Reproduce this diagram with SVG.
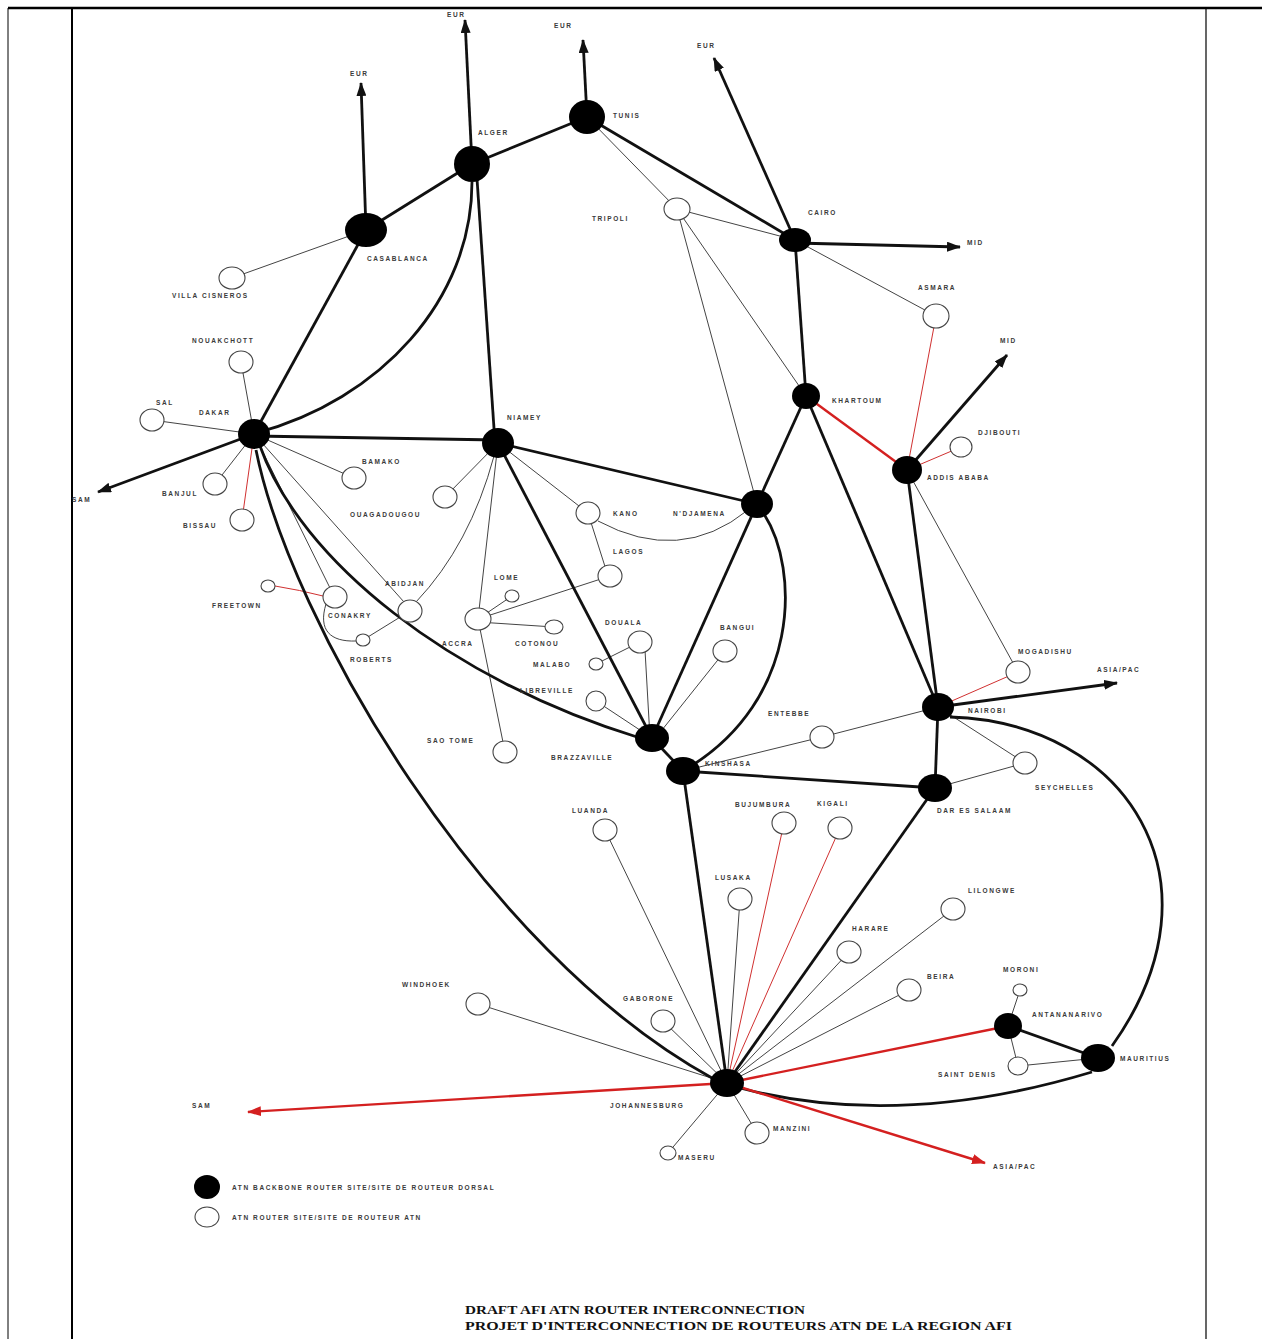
<svg xmlns="http://www.w3.org/2000/svg" width="1262" height="1339" viewBox="0 0 1262 1339">
<style>
.thin{stroke:#444;stroke-width:1;fill:none}
.red{stroke:#d03030;stroke-width:1;fill:none}
.thk{stroke:#111;stroke-width:2.8;fill:none}
.rthk{stroke:#d42020;stroke-width:2.4;fill:none}
.bb{fill:#000}
.op{fill:#fff;stroke:#444;stroke-width:1.1}
text{font-family:"Liberation Sans",Arial,sans-serif;font-size:6.5px;font-weight:bold;letter-spacing:1.6px;fill:#3a3a3a}
.title{font-family:"Liberation Serif","Times New Roman",serif;font-weight:bold;font-size:12px;letter-spacing:0;fill:#111}
</style>
<defs>
<marker id="ab" markerWidth="14" markerHeight="10" refX="13" refY="5" orient="auto" markerUnits="userSpaceOnUse"><path d="M0,0 L14,5 L0,10 Z" fill="#111"/></marker>
<marker id="ar" markerWidth="14" markerHeight="10" refX="13" refY="5" orient="auto" markerUnits="userSpaceOnUse"><path d="M0,0 L14,5 L0,10 Z" fill="#d42020"/></marker>
</defs>
<rect width="1262" height="1339" fill="#fff"/>
<g id="frame" stroke="#000" fill="none">
<line x1="8" y1="8" x2="1262" y2="8" stroke-width="2.5"/>
<line x1="8" y1="8" x2="8" y2="1339" stroke-width="1"/>
<line x1="72" y1="8" x2="72" y2="1339" stroke-width="2"/>
<line x1="1206" y1="8" x2="1206" y2="1339" stroke-width="1.2"/>
</g>
<g id="connectors">
<line class="thin" x1="366" y1="230" x2="232" y2="278"/>
<line class="thin" x1="587" y1="117" x2="677" y2="209"/>
<line class="thin" x1="677" y1="209" x2="795" y2="240"/>
<line class="thin" x1="677" y1="209" x2="757" y2="504"/>
<line class="thin" x1="677" y1="209" x2="806" y2="396"/>
<line class="thin" x1="795" y1="240" x2="936" y2="316"/>
<line class="thin" x1="907" y1="470" x2="1018" y2="672"/>
<line class="thin" x1="254" y1="434" x2="241" y2="362"/>
<line class="thin" x1="254" y1="434" x2="152" y2="420"/>
<line class="thin" x1="254" y1="434" x2="215" y2="484"/>
<line class="thin" x1="254" y1="434" x2="354" y2="478"/>
<line class="thin" x1="254" y1="434" x2="330" y2="588"/>
<line class="thin" x1="254" y1="434" x2="404" y2="602"/>
<path class="thin" d="M326,604 C318,630 330,642 356,641"/>
<line class="thin" x1="363" y1="640" x2="410" y2="611"/>
<line class="thin" x1="498" y1="443" x2="445" y2="497"/>
<path class="thin" d="M494,456 Q470,545 416,602"/>
<line class="thin" x1="498" y1="443" x2="478" y2="619"/>
<line class="thin" x1="498" y1="443" x2="588" y2="513"/>
<line class="thin" x1="588" y1="513" x2="608" y2="576"/>
<path class="thin" d="M598,521 Q680,565 748,510"/>
<line class="thin" x1="478" y1="619" x2="512" y2="596"/>
<line class="thin" x1="478" y1="622" x2="554" y2="627"/>
<line class="thin" x1="478" y1="619" x2="610" y2="576"/>
<line class="thin" x1="478" y1="619" x2="505" y2="752"/>
<line class="thin" x1="640" y1="642" x2="596" y2="664"/>
<line class="thin" x1="645" y1="650" x2="650" y2="738"/>
<line class="thin" x1="596" y1="701" x2="652" y2="738"/>
<line class="thin" x1="725" y1="651" x2="658" y2="735"/>
<line class="thin" x1="822" y1="737" x2="683" y2="771"/>
<line class="thin" x1="822" y1="737" x2="938" y2="707"/>
<line class="thin" x1="938" y1="707" x2="1025" y2="763"/>
<line class="thin" x1="935" y1="788" x2="1025" y2="763"/>
<line class="thin" x1="727" y1="1083" x2="605" y2="830"/>
<line class="thin" x1="727" y1="1083" x2="740" y2="899"/>
<line class="thin" x1="727" y1="1083" x2="849" y2="952"/>
<line class="thin" x1="727" y1="1083" x2="953" y2="909"/>
<line class="thin" x1="727" y1="1083" x2="909" y2="990"/>
<line class="thin" x1="727" y1="1083" x2="478" y2="1004"/>
<line class="thin" x1="727" y1="1083" x2="663" y2="1021"/>
<line class="thin" x1="727" y1="1083" x2="668" y2="1153"/>
<line class="thin" x1="727" y1="1083" x2="757" y2="1133"/>
<line class="thin" x1="1008" y1="1026" x2="1020" y2="990"/>
<line class="thin" x1="1008" y1="1026" x2="1018" y2="1066"/>
<line class="thin" x1="1018" y1="1066" x2="1098" y2="1058"/>
<line class="red" x1="936" y1="316" x2="907" y2="470"/>
<line class="red" x1="907" y1="470" x2="961" y2="447"/>
<line class="red" x1="938" y1="707" x2="1018" y2="672"/>
<line class="red" x1="254" y1="434" x2="242" y2="520"/>
<path class="red" d="M275,586 Q300,590 323,596"/>
<line class="red" x1="727" y1="1083" x2="784" y2="823"/>
<line class="red" x1="727" y1="1083" x2="840" y2="828"/>
<line class="thk" x1="366" y1="230" x2="472" y2="164"/>
<line class="thk" x1="472" y1="164" x2="587" y2="117"/>
<line class="thk" x1="587" y1="117" x2="795" y2="240"/>
<line class="thk" x1="366" y1="230" x2="254" y2="434"/>
<path class="thk" d="M472,182 C472,300 380,400 256,433"/>
<line class="thk" x1="476" y1="164" x2="495" y2="443"/>
<line class="thk" x1="795" y1="240" x2="806" y2="396"/>
<line class="thk" x1="806" y1="396" x2="757" y2="504"/>
<line class="thk" x1="806" y1="396" x2="938" y2="707"/>
<line class="thk" x1="907" y1="470" x2="938" y2="707"/>
<line class="thk" x1="254" y1="436" x2="498" y2="440"/>
<line class="thk" x1="498" y1="443" x2="757" y2="504"/>
<line class="thk" x1="498" y1="443" x2="652" y2="738"/>
<line class="thk" x1="757" y1="504" x2="652" y2="738"/>
<path class="thk" d="M764,514 C800,570 800,700 688,768"/>
<path class="thk" d="M260,446 C300,560 450,680 640,738"/>
<path class="thk" d="M256,450 C290,620 480,950 712,1078"/>
<line class="thk" x1="652" y1="738" x2="683" y2="771"/>
<line class="thk" x1="683" y1="771" x2="935" y2="788"/>
<line class="thk" x1="683" y1="771" x2="727" y2="1083"/>
<line class="thk" x1="938" y1="707" x2="935" y2="788"/>
<line class="thk" x1="935" y1="788" x2="727" y2="1083"/>
<path class="thk" d="M950,717 C1125,722 1230,880 1112,1046"/>
<line class="thk" x1="1008" y1="1026" x2="1098" y2="1058"/>
<path class="thk" d="M1092,1072 Q900,1130 740,1088"/>
<line class="rthk" x1="806" y1="396" x2="907" y2="470"/>
<line class="rthk" x1="727" y1="1083" x2="1008" y2="1026"/>
<line class="thk" x1="366" y1="230" x2="361" y2="83" marker-end="url(#ab)"/>
<line class="thk" x1="472" y1="164" x2="465" y2="20" marker-end="url(#ab)"/>
<line class="thk" x1="587" y1="117" x2="583" y2="40" marker-end="url(#ab)"/>
<line class="thk" x1="795" y1="240" x2="714" y2="58" marker-end="url(#ab)"/>
<line class="thk" x1="795" y1="243" x2="960" y2="247" marker-end="url(#ab)"/>
<line class="thk" x1="907" y1="470" x2="1007" y2="355" marker-end="url(#ab)"/>
<line class="thk" x1="254" y1="434" x2="98" y2="492" marker-end="url(#ab)"/>
<line class="thk" x1="938" y1="707" x2="1117" y2="683" marker-end="url(#ab)"/>
<line class="rthk" x1="727" y1="1083" x2="248" y2="1112" marker-end="url(#ar)"/>
<line class="rthk" x1="727" y1="1083" x2="985" y2="1163" marker-end="url(#ar)"/>
</g>
<g id="n-alger"><ellipse class="bb" cx="472" cy="164" rx="18" ry="18"/><text x="478" y="135">ALGER</text></g>
<g id="n-tunis"><ellipse class="bb" cx="587" cy="117" rx="18" ry="17"/><text x="613" y="118">TUNIS</text></g>
<g id="n-casablanca"><ellipse class="bb" cx="366" cy="230" rx="21" ry="17"/><text x="367" y="261">CASABLANCA</text></g>
<g id="n-cairo"><ellipse class="bb" cx="795" cy="240" rx="16" ry="12"/><text x="808" y="215">CAIRO</text></g>
<g id="n-khartoum"><ellipse class="bb" cx="806" cy="396" rx="14" ry="13"/><text x="832" y="403">KHARTOUM</text></g>
<g id="n-addis"><ellipse class="bb" cx="907" cy="470" rx="15" ry="14"/><text x="927" y="480">ADDIS ABABA</text></g>
<g id="n-ndjamena"><ellipse class="bb" cx="757" cy="504" rx="16" ry="14"/><text x="673" y="516">N'DJAMENA</text></g>
<g id="n-niamey"><ellipse class="bb" cx="498" cy="443" rx="16" ry="15"/><text x="507" y="420">NIAMEY</text></g>
<g id="n-dakar"><ellipse class="bb" cx="254" cy="434" rx="16" ry="15"/><text x="199" y="415">DAKAR</text></g>
<g id="n-brazzaville"><ellipse class="bb" cx="652" cy="738" rx="17" ry="14"/><text x="551" y="760">BRAZZAVILLE</text></g>
<g id="n-kinshasa"><ellipse class="bb" cx="683" cy="771" rx="17" ry="14"/><text x="705" y="766">KINSHASA</text></g>
<g id="n-nairobi"><ellipse class="bb" cx="938" cy="707" rx="16" ry="14"/><text x="968" y="713">NAIROBI</text></g>
<g id="n-dar"><ellipse class="bb" cx="935" cy="788" rx="17" ry="14"/><text x="937" y="813">DAR ES SALAAM</text></g>
<g id="n-antananarivo"><ellipse class="bb" cx="1008" cy="1026" rx="14" ry="13"/><text x="1032" y="1017">ANTANANARIVO</text></g>
<g id="n-mauritius"><ellipse class="bb" cx="1098" cy="1058" rx="17" ry="14"/><text x="1120" y="1061">MAURITIUS</text></g>
<g id="n-johannesburg"><ellipse class="bb" cx="727" cy="1083" rx="17" ry="14"/><text x="610" y="1108">JOHANNESBURG</text></g>
<g id="n-villacisneros"><ellipse class="op" cx="232" cy="278" rx="13" ry="11"/><text x="172" y="298">VILLA CISNEROS</text></g>
<g id="n-tripoli"><ellipse class="op" cx="677" cy="209" rx="13" ry="11"/><text x="592" y="221">TRIPOLI</text></g>
<g id="n-asmara"><ellipse class="op" cx="936" cy="316" rx="13" ry="12"/><text x="918" y="290">ASMARA</text></g>
<g id="n-djibouti"><ellipse class="op" cx="961" cy="447" rx="11" ry="10"/><text x="978" y="435">DJIBOUTI</text></g>
<g id="n-nouakchott"><ellipse class="op" cx="241" cy="362" rx="12" ry="11"/><text x="192" y="343">NOUAKCHOTT</text></g>
<g id="n-sal"><ellipse class="op" cx="152" cy="420" rx="12" ry="11"/><text x="156" y="405">SAL</text></g>
<g id="n-banjul"><ellipse class="op" cx="215" cy="484" rx="12" ry="11"/><text x="162" y="496">BANJUL</text></g>
<g id="n-bissau"><ellipse class="op" cx="242" cy="520" rx="12" ry="11"/><text x="183" y="528">BISSAU</text></g>
<g id="n-bamako"><ellipse class="op" cx="354" cy="478" rx="12" ry="11"/><text x="362" y="464">BAMAKO</text></g>
<g id="n-ouagadougou"><ellipse class="op" cx="445" cy="497" rx="12" ry="11"/><text x="350" y="517">OUAGADOUGOU</text></g>
<g id="n-kano"><ellipse class="op" cx="588" cy="513" rx="12" ry="11"/><text x="613" y="516">KANO</text></g>
<g id="n-lagos"><ellipse class="op" cx="610" cy="576" rx="12" ry="11"/><text x="613" y="554">LAGOS</text></g>
<g id="n-lome"><ellipse class="op" cx="512" cy="596" rx="7" ry="6"/><text x="494" y="580">LOME</text></g>
<g id="n-accra"><ellipse class="op" cx="478" cy="619" rx="13" ry="11"/><text x="442" y="646">ACCRA</text></g>
<g id="n-cotonou"><ellipse class="op" cx="554" cy="627" rx="9" ry="7"/><text x="515" y="646">COTONOU</text></g>
<g id="n-abidjan"><ellipse class="op" cx="410" cy="611" rx="12" ry="11"/><text x="385" y="586">ABIDJAN</text></g>
<g id="n-conakry"><ellipse class="op" cx="335" cy="597" rx="12" ry="11"/><text x="328" y="618">CONAKRY</text></g>
<g id="n-freetown"><ellipse class="op" cx="268" cy="586" rx="7" ry="6"/><text x="212" y="608">FREETOWN</text></g>
<g id="n-roberts"><ellipse class="op" cx="363" cy="640" rx="7" ry="6"/><text x="350" y="662">ROBERTS</text></g>
<g id="n-douala"><ellipse class="op" cx="640" cy="642" rx="12" ry="11"/><text x="605" y="625">DOUALA</text></g>
<g id="n-malabo"><ellipse class="op" cx="596" cy="664" rx="7" ry="6"/><text x="533" y="667">MALABO</text></g>
<g id="n-libreville"><ellipse class="op" cx="596" cy="701" rx="10" ry="10"/><text x="520" y="693">LIBREVILLE</text></g>
<g id="n-bangui"><ellipse class="op" cx="725" cy="651" rx="12" ry="11"/><text x="720" y="630">BANGUI</text></g>
<g id="n-saotome"><ellipse class="op" cx="505" cy="752" rx="12" ry="11"/><text x="427" y="743">SAO TOME</text></g>
<g id="n-entebbe"><ellipse class="op" cx="822" cy="737" rx="12" ry="11"/><text x="768" y="716">ENTEBBE</text></g>
<g id="n-mogadishu"><ellipse class="op" cx="1018" cy="672" rx="12" ry="11"/><text x="1018" y="654">MOGADISHU</text></g>
<g id="n-seychelles"><ellipse class="op" cx="1025" cy="763" rx="12" ry="11"/><text x="1035" y="790">SEYCHELLES</text></g>
<g id="n-luanda"><ellipse class="op" cx="605" cy="830" rx="12" ry="11"/><text x="572" y="813">LUANDA</text></g>
<g id="n-bujumbura"><ellipse class="op" cx="784" cy="823" rx="12" ry="11"/><text x="735" y="807">BUJUMBURA</text></g>
<g id="n-kigali"><ellipse class="op" cx="840" cy="828" rx="12" ry="11"/><text x="817" y="806">KIGALI</text></g>
<g id="n-lusaka"><ellipse class="op" cx="740" cy="899" rx="12" ry="11"/><text x="715" y="880">LUSAKA</text></g>
<g id="n-harare"><ellipse class="op" cx="849" cy="952" rx="12" ry="11"/><text x="852" y="931">HARARE</text></g>
<g id="n-lilongwe"><ellipse class="op" cx="953" cy="909" rx="12" ry="11"/><text x="968" y="893">LILONGWE</text></g>
<g id="n-beira"><ellipse class="op" cx="909" cy="990" rx="12" ry="11"/><text x="927" y="979">BEIRA</text></g>
<g id="n-moroni"><ellipse class="op" cx="1020" cy="990" rx="7" ry="6"/><text x="1003" y="972">MORONI</text></g>
<g id="n-saintdenis"><ellipse class="op" cx="1018" cy="1066" rx="10" ry="9"/><text x="938" y="1077">SAINT DENIS</text></g>
<g id="n-windhoek"><ellipse class="op" cx="478" cy="1004" rx="12" ry="11"/><text x="402" y="987">WINDHOEK</text></g>
<g id="n-gaborone"><ellipse class="op" cx="663" cy="1021" rx="12" ry="11"/><text x="623" y="1001">GABORONE</text></g>
<g id="n-maseru"><ellipse class="op" cx="668" cy="1153" rx="8" ry="7"/><text x="678" y="1160">MASERU</text></g>
<g id="n-manzini"><ellipse class="op" cx="757" cy="1133" rx="12" ry="11"/><text x="773" y="1131">MANZINI</text></g>
<g id="region-labels">
<text x="350" y="76">EUR</text>
<text x="447" y="17">EUR</text>
<text x="554" y="28">EUR</text>
<text x="697" y="48">EUR</text>
<text x="967" y="245">MID</text>
<text x="1000" y="343">MID</text>
<text x="72" y="502">SAM</text>
<text x="1097" y="672">ASIA/PAC</text>
<text x="192" y="1108">SAM</text>
<text x="993" y="1169">ASIA/PAC</text>
</g>
<g id="legend">
<ellipse class="bb" cx="207" cy="1187" rx="13" ry="12"/>
<text x="232" y="1190">ATN BACKBONE ROUTER SITE/SITE DE ROUTEUR DORSAL</text>
<ellipse class="op" cx="207" cy="1217" rx="12" ry="10"/>
<text x="232" y="1220">ATN ROUTER SITE/SITE DE ROUTEUR ATN</text>
</g>
<g id="title">
<text class="title" x="465" y="1314" textLength="340" lengthAdjust="spacingAndGlyphs">DRAFT AFI ATN ROUTER INTERCONNECTION</text>
<text class="title" x="465" y="1330" textLength="547" lengthAdjust="spacingAndGlyphs">PROJET D'INTERCONNECTION DE ROUTEURS ATN DE LA REGION AFI</text>
</g>
</svg>
